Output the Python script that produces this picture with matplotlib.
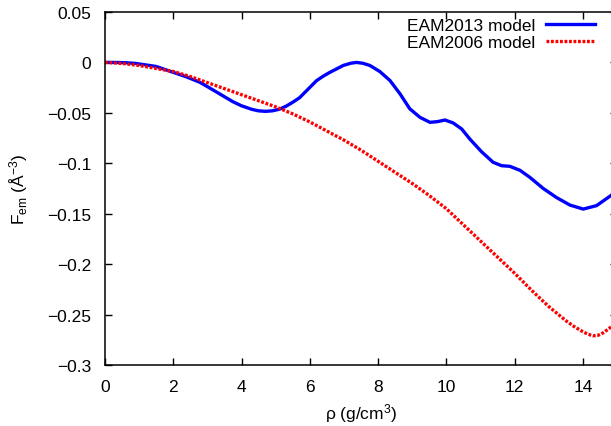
import numpy as np
import matplotlib
matplotlib.use('Agg')
import matplotlib.pyplot as plt

# data
rho_2013 = [0, 0.3, 0.6, 0.9, 1.2, 1.5, 1.8, 2.1, 2.4, 2.78, 3.0, 3.4, 3.75,
            4.0, 4.3, 4.5, 4.7, 4.9, 5.1, 5.3, 5.5, 5.7, 5.95, 6.2, 6.4, 6.59,
            6.98, 7.2, 7.37, 7.55, 7.76, 8.05, 8.35, 8.64, 8.93, 9.23, 9.52,
            9.74, 9.96, 10.2, 10.45, 10.69, 11.03, 11.37, 11.62, 11.86, 12.16,
            12.45, 12.84, 13.23, 13.62, 14.01, 14.4, 14.82, 15.0]
f_2013 = [0, 0, -0.0003, -0.001, -0.0025, -0.004, -0.0075, -0.011, -0.0145,
          -0.0197, -0.024, -0.032, -0.039, -0.043, -0.0465, -0.048, -0.0485,
          -0.048, -0.0465, -0.0435, -0.0395, -0.035, -0.0265, -0.018, -0.0135,
          -0.0098, -0.003, -0.0008, 0.0, -0.0008, -0.003, -0.009, -0.018,
          -0.031, -0.046, -0.0545, -0.0594, -0.0587, -0.0571, -0.060, -0.066,
          -0.076, -0.0885, -0.099, -0.1024, -0.103, -0.107, -0.114, -0.125,
          -0.134, -0.1414, -0.1454, -0.142, -0.132, -0.127]

rho_2006 = [0, 0.5, 1.0, 1.5, 2.0, 2.5, 3.0, 3.5, 4.0, 4.5, 5.0, 5.5, 6.0, 6.5,
            7.0, 7.5, 8.0, 8.5, 9.0, 9.5, 10.0, 10.5, 11.0, 11.5, 12.0, 12.5,
            13.0, 13.5, 13.75, 14.0, 14.15, 14.3, 14.45, 14.6, 14.8, 15.0]
f_2006 = [0, -0.001, -0.003, -0.006, -0.009, -0.014, -0.020, -0.026, -0.032,
          -0.038, -0.044, -0.051, -0.059, -0.068, -0.077, -0.087, -0.098,
          -0.109, -0.120, -0.132, -0.145, -0.161, -0.177, -0.193, -0.209,
          -0.226, -0.242, -0.256, -0.262, -0.267, -0.2695, -0.271, -0.2705,
          -0.268, -0.263, -0.257]

xticks = [0, 2, 4, 6, 8, 10, 12, 14]
yticks = [0.05, 0, -0.05, -0.1, -0.15, -0.2, -0.25, -0.3]
ytick_labels = ['0.05', '0', '\u22120.05', '\u22120.1', '\u22120.15', '\u22120.2',
                '\u22120.25', '\u22120.3']

plt.rcParams['font.family'] = ['Liberation Sans', 'DejaVu Sans']
plt.rcParams['mathtext.fontset'] = 'custom'
plt.rcParams['mathtext.rm'] = 'Liberation Sans'
plt.rcParams['mathtext.it'] = 'Liberation Sans:italic'

fs = 12.5

fig = plt.figure(figsize=(6.11, 4.27), dpi=100)
ax = fig.add_axes([105 / 611, 61 / 427, 512 / 611, 353 / 427])

ax.plot(rho_2013, f_2013, color='#0000ff', lw=2.4, solid_joinstyle='round',
        label='EAM2013 model')
ax.plot(rho_2006, f_2006, color='#ff0000', lw=2.4, linestyle=(0, (0.85, 0.5)),
        label='EAM2006 model')

ax.set_xlim(0, 15)
ax.set_ylim(-0.3, 0.05)
ax.set_xticks(xticks)
ax.set_xticklabels([str(t) for t in xticks])
ax.set_yticks(yticks)
ax.set_yticklabels(ytick_labels)
ax.tick_params(direction='in', length=5, width=1, labelsize=fs, top=True,
               right=True)
ax.tick_params(axis='y', pad=10)
ax.tick_params(axis='x', pad=10)
for s in ax.spines.values():
    s.set_linewidth(1.1)

ax.set_xlabel('\u03c1 (g/cm$^\\mathregular{3}$)', fontsize=fs, labelpad=5)
ax.set_ylabel('F$_\\mathregular{em}$ (\u00c5$^\\mathregular{\u22123}$)', fontsize=fs)
ax.yaxis.set_label_coords(-(105 - 30) / 512, 0.5)

ax.legend(loc='upper right', bbox_to_anchor=(595 / 611, 1 - 19 / 427),
          bbox_transform=fig.transFigure, frameon=False, markerfirst=False,
          handlelength=2.8, handletextpad=0.65, labelspacing=0.1,
          borderpad=0, borderaxespad=0, fontsize=fs)

fig.savefig('out.png', dpi=100)
